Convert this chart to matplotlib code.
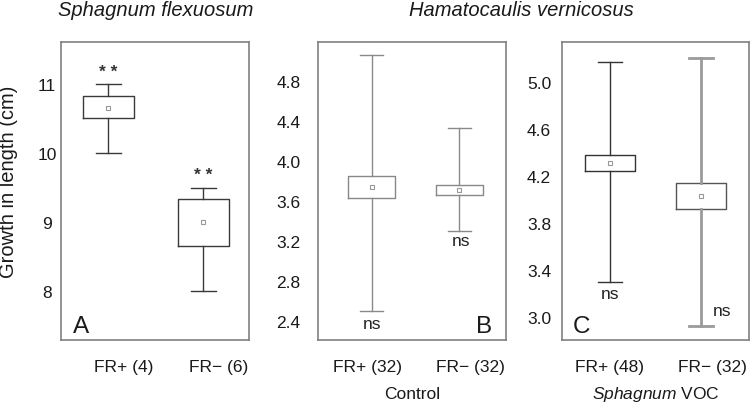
import matplotlib
matplotlib.use("Agg")
import matplotlib.pyplot as plt
from matplotlib.transforms import offset_copy

plt.rcParams['font.family'] = ['Liberation Sans', 'DejaVu Sans']
plt.rcParams['mathtext.fontset'] = 'custom'
plt.rcParams['mathtext.rm'] = 'Liberation Sans'
plt.rcParams['mathtext.it'] = 'Liberation Sans:italic'

# ---------------- data ----------------
groups = ["FR+", "FR\u2212"]
n_A = [4, 6]
n_B = [32, 32]
n_C = [48, 32]

# whisker low, Q1, mean, Q3, whisker high
A_lo = [10.0, 8.0]
A_q1 = [10.51, 8.65]
A_mean = [10.65, 9.0]
A_q3 = [10.82, 9.34]
A_hi = [11.0, 9.50]

B_lo = [2.50, 3.30]
B_q1 = [3.63, 3.656]
B_mean = [3.74, 3.71]
B_q3 = [3.85, 3.756]
B_hi = [5.06, 4.33]

C_lo = [3.30, 2.93]
C_q1 = [4.243, 3.919]
C_mean = [4.31, 4.03]
C_q3 = [4.379, 4.143]
C_hi = [5.17, 5.204]

A_sig = ["**", "**"]
B_sig = ["ns", "ns"]
C_sig = ["ns", "ns"]

A_ticks = [8, 9, 10, 11]
B_ticks = [2.4, 2.8, 3.2, 3.6, 4.0, 4.4, 4.8]
C_ticks = [3.0, 3.4, 3.8, 4.2, 4.6, 5.0]

# ---------------- layout ----------------
W, H = 750, 414
fig = plt.figure(figsize=(W / 100, H / 100), dpi=100)

panels = [
    dict(rect=(61, 43, 188, 298), lo=A_lo, q1=A_q1, mean=A_mean, q3=A_q3, hi=A_hi,
         n=n_A, sig=A_sig, ticks=A_ticks, fmt="{:.0f}", ylim=(7.29, 11.61),
         xlim=(0.502, 2.48), letter="A", letter_x=0.106, ypad=10,
         boxcol=["#3a3a3a", "#3a3a3a"], colors=["#3a3a3a", "#3a3a3a"], wlw=[1.0, 1.0],
         sig_anchor="hi", sig_off=[(0, 13), (0, 13)],
         lab_off=[15.5, 15.3]),
    dict(rect=(318.3, 43, 187.4, 298), lo=B_lo, q1=B_q1, mean=B_mean, q3=B_q3, hi=B_hi,
         n=n_B, sig=B_sig, ticks=B_ticks, fmt="{:.1f}", ylim=(2.21, 5.19),
         xlim=(0.39, 2.53), letter="B", letter_x=0.887, ypad=21.5,
         boxcol=["#888888", "#888888"], colors=["#8a8a8a", "#8a8a8a"], wlw=[1.0, 1.0],
         sig_anchor="lo", sig_off=[(0, -13), (2, -10)],
         lab_off=[-4, 11.5]),
    dict(rect=(561.7, 43, 187.3, 298), lo=C_lo, q1=C_q1, mean=C_mean, q3=C_q3, hi=C_hi,
         n=n_C, sig=C_sig, ticks=C_ticks, fmt="{:.1f}", ylim=(2.807, 5.343),
         xlim=(0.469, 2.527), letter="C", letter_x=0.106, ypad=16.3,
         boxcol=["#333333", "#555555"], colors=["#333333", "#9a9a9a"], wlw=[1.0, 2.0],
         sig_anchor="lo", sig_off=[(0, -11), (21, 15)],
         lab_off=[-1, 11.5]),
]

axes = []
for p in panels:
    x0, y0, w, h = p["rect"]
    ax = fig.add_axes([x0 / W, 1 - (y0 + h) / H, w / W, h / H])
    axes.append(ax)
    positions = [1, 2]
    for i, pos in enumerate(positions):
        col = p["colors"][i]
        stats = [dict(whislo=p["lo"][i], q1=p["q1"][i], med=p["mean"][i],
                      q3=p["q3"][i], whishi=p["hi"][i], mean=p["mean"][i])]
        ax.bxp(stats, positions=[pos], widths=0.54, showmeans=True,
               showfliers=False, manage_ticks=False,
               boxprops=dict(color=p["boxcol"][i], linewidth=1.0),
               whiskerprops=dict(color=col, linewidth=p["wlw"][i]),
               capprops=dict(color=col, linewidth=p["wlw"][i]),
               capwidths=0.26,
               medianprops=dict(visible=False),
               meanprops=dict(marker="s", markersize=3.2, markerfacecolor="white",
                              markeredgecolor="#999999", markeredgewidth=0.8),
               zorder=2)
        anchor = p["hi"][i] if p["sig_anchor"] == "hi" else p["lo"][i]
        dx, dy = p["sig_off"][i]
        txt = p["sig"][i]
        if txt == "**":
            ax.annotate("* *", xy=(pos, anchor), xytext=(dx, dy),
                        textcoords="offset pixels", ha="center", va="center",
                        fontsize=12.5, fontweight="bold", color="#333333")
        else:
            ax.annotate(txt, xy=(pos, anchor), xytext=(dx, dy),
                        textcoords="offset pixels", ha="center", va="center",
                        fontsize=12.5, color="#222222")
        # category label, 27 px below the axes bottom
        trans = offset_copy(ax.get_xaxis_transform(), fig=fig,
                            x=p["lab_off"][i] / 100, y=-27 / 100, units="inches")
        ax.text(pos, 0, f"{groups[i]} ({p['n'][i]})", transform=trans,
                ha="center", va="center", fontsize=12.5, color="#1a1a1a",
                clip_on=False)
    ax.set_xlim(*p["xlim"])
    ax.set_ylim(*p["ylim"])
    ax.set_xticks([])
    ax.set_yticks(p["ticks"])
    ax.set_yticklabels([p["fmt"].format(t) for t in p["ticks"]])
    ax.tick_params(axis="y", length=0, pad=p["ypad"], labelsize=12.5,
                   labelcolor="#1a1a1a")
    for lab in ax.get_yticklabels():
        lab.set_horizontalalignment("center")
    for s in ax.spines.values():
        s.set_color("#808080")
        s.set_linewidth(1.2)
    ax.text(p["letter_x"], 0.047, p["letter"], transform=ax.transAxes,
            ha="center", va="center", fontsize=17.5, color="#1a1a1a")

fig.text(9 / W, 1 - 181.5 / H, "Growth in length (cm)", rotation=90,
         fontsize=14.5, ha="center", va="center", color="#1a1a1a")

fig.text(156 / W, 1 - 11 / H, "Sphagnum flexuosum", style="italic",
         fontsize=14.5, ha="center", va="center", color="#1a1a1a")
fig.text(521 / W, 1 - 11 / H, "Hamatocaulis vernicosus", style="italic",
         fontsize=14.5, ha="center", va="center", color="#1a1a1a")
fig.text(412 / W, 1 - 395 / H, "Control", fontsize=12.5,
         ha="center", va="center", color="#1a1a1a")
fig.text(656 / W, 1 - 395 / H, r"$\mathit{Sphagnum}$ VOC", fontsize=12.5,
         ha="center", va="center", color="#1a1a1a")

fig.savefig("out.png", dpi=100)
